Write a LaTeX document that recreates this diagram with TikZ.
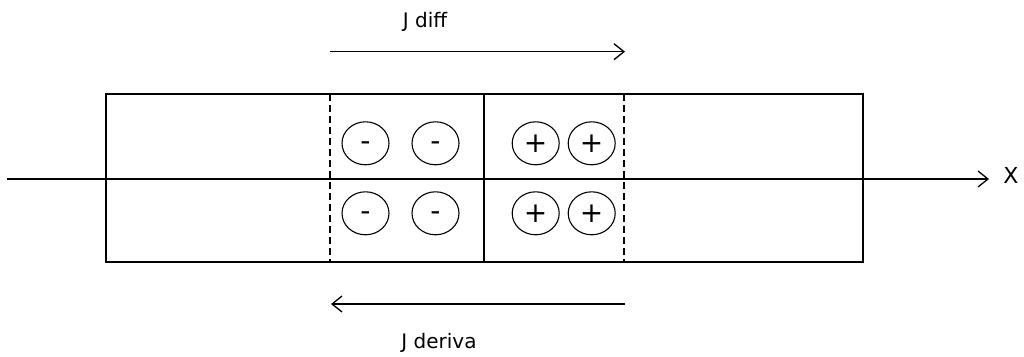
\documentclass[tikz,border=0pt]{standalone}
\usepackage{fontspec}
\setmainfont{DejaVu Sans}
\usetikzlibrary{arrows.meta,shapes.geometric}
\newcommand{\mysign}[1]{\smash{\raisebox{-7.6pt}{#1}}}
\begin{document}
\begin{tikzpicture}[x=1pt,y=-1pt,
  ln/.style={line width=1.3pt,draw=black},
  arr/.style={ln,-{Straight Barb[length=10pt,width=16pt,line width=1.3pt]}},
  dsh/.style={line width=1.1pt,draw=black,dash pattern=on 7pt off 4pt},
  chg/.style={draw=black,line width=1.1pt,ellipse,minimum width=47pt,minimum height=43pt,inner sep=0pt,font=\fontsize{28}{30}\selectfont},
  lbl/.style={inner sep=0pt,font=\fontsize{20}{22}\selectfont}]
\useasboundingbox (0,0) rectangle (1024,356);
% box
\coordinate (tl) at (106,94);
\coordinate (br) at (863,262);
\draw[ln] (tl) rectangle (br);
\coordinate (mt) at (484,94);
\coordinate (mb) at (484,262);
\draw[ln] (mt) -- (mb);
\coordinate (dlt) at (330,94);
\coordinate (dlb) at (330,262);
\coordinate (drt) at (624,94);
\coordinate (drb) at (624,262);
\draw[dsh] (dlt) -- (dlb);
\draw[dsh] (drt) -- (drb);
% axis
\coordinate (a0) at (7,179);
\coordinate (a1) at (989,179);
\draw[arr] (a0) -- (a1);
\node[lbl,font=\fontsize{22}{24}\selectfont] (X) at (1011,175) {X};
% charges
\node[chg] (m1) at (365.5,143.3) {\mysign{-}};
\node[chg] (m2) at (435.5,143.3) {\mysign{-}};
\node[chg] (m3) at (365.5,213.3) {\mysign{-}};
\node[chg] (m4) at (435.5,213.3) {\mysign{-}};
\node[chg] (p1) at (535.7,143.3) {+};
\node[chg] (p2) at (591.7,143.3) {+};
\node[chg] (p3) at (535.7,213.3) {+};
\node[chg] (p4) at (591.7,213.3) {+};
% currents
\coordinate (d0) at (330,51.7);
\coordinate (d1) at (625,51.7);
\draw[arr] (d0) -- (d1);
\node[lbl] (jdiff) at (425,22) {J diff};
\coordinate (r0) at (625,304);
\coordinate (r1) at (331,304);
\draw[arr] (r0) -- (r1);
\node[lbl] (jder) at (439,343) {J deriva};
\end{tikzpicture}
\end{document}
